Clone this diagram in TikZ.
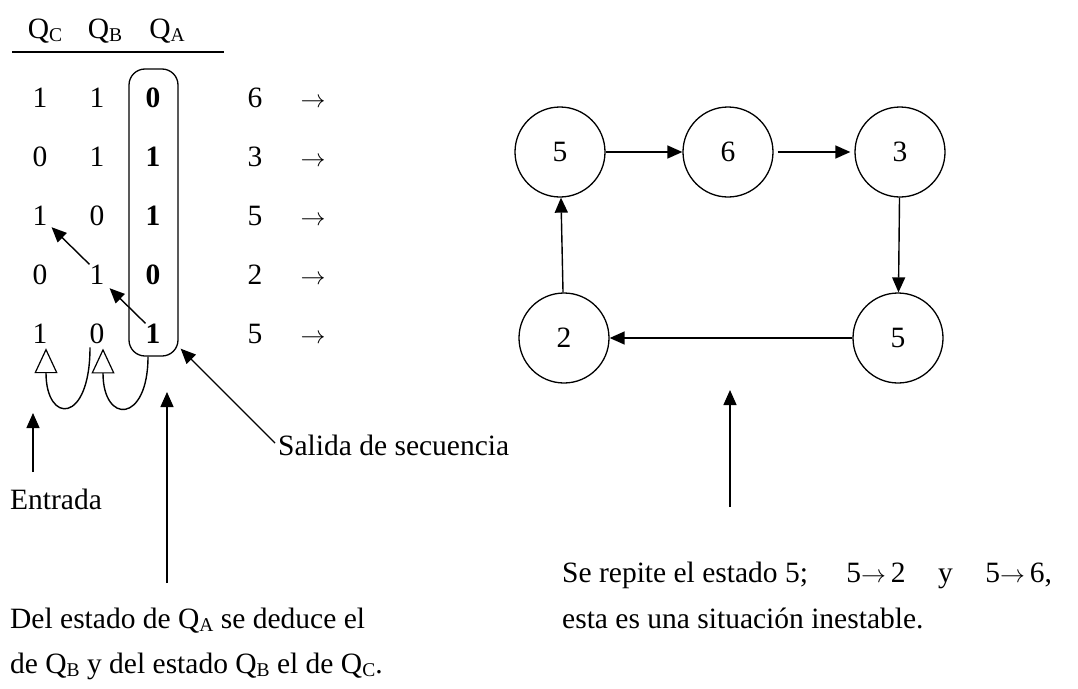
\documentclass[tikz,border=0pt]{standalone}
\usepackage{fontspec}
\setmainfont{Liberation Serif}
\usetikzlibrary{arrows.meta, positioning}
\newcommand{\qsub}[1]{\raisebox{-0.13em}{\fontsize{19.5}{20}\selectfont #1}}
\newcommand{\flechita}{{\fontsize{33}{35}\selectfont$\rightarrow$}}

\tikzset{
  txt/.style={inner sep=0pt, anchor=base, font=\fontsize{29.5}{35}\selectfont},
  estado/.style={draw, circle, line width=1.3pt, minimum size=90pt, inner sep=0pt, font=\fontsize{29.5}{35}\selectfont},
  flecha/.style={line width=1.4pt, -{Triangle[length=15pt,width=13pt]}},
  hueca/.style={line width=1.4pt, -{Triangle[open,length=25pt,width=23pt,line width=1.2pt]}}
}

\begin{document}
\begin{tikzpicture}[x=1pt, y=-1pt]
\useasboundingbox (0,0) rectangle (1078,688);

\node[txt] (hc) at (45,38) {Q\qsub{C}};
\node[txt] (hb) at (105,38) {Q\qsub{B}};
\node[txt] (ha) at (167,38) {Q\qsub{A}};
\draw[line width=1.3pt] (12,52) -- (224,52);

\foreach \c/\b/\a/\n [count=\i] in {1/1/0/6, 0/1/1/3, 1/0/1/5, 0/1/0/2, 1/0/1/5} {
  \node[txt] (c\i) at (40,{107+59*(\i-1)}) {\c};
  \node[txt] (b\i) at (97,{107+59*(\i-1)}) {\b};
  \node[txt] (a\i) at (153,{107+59*(\i-1)}) {\textbf{\a}};
  \node[txt] (n\i) at (255,{107+59*(\i-1)}) {\n};
  \node[txt] (f\i) at (313,{107+59*(\i-1)}) {\flechita};
}
\node[draw, rounded corners=16pt, line width=1.3pt, minimum width=49pt, minimum height=287pt] (qabox) at (153.5,212.5) {};

\draw[flecha] (a5.north west) -- ([shift={(5pt,-4pt)}]b4.south east);
\draw[flecha] (b4.north west) -- ([shift={(4pt,-2pt)}]c3.south east);
\draw[hueca] ([xshift=-5.5pt]qabox.south) .. controls +(0,67) and +(0,76) .. ([shift={(6pt,-5pt)}]b5.south);
\draw[hueca] ([shift={(-7pt,-4pt)}]b5.south) .. controls +(0,77) and +(0,76) .. ([shift={(6pt,-5pt)}]c5.south);

\node[txt, anchor=base west] (salida) at (278,455) {Salida de secuencia};
\draw[flecha] ([shift={(-3pt,12pt)}]salida.base west) -- ([shift={(2pt,8pt)}]qabox.south east);

\node[txt, anchor=base west] (entrada) at (10,509) {Entrada};
\coordinate (e1) at (33,472);
\coordinate (e2) at (33,413);
\draw[flecha] (e1) -- (e2);

\node[txt, anchor=base west] (del1) at (10,628) {Del estado de Q\qsub{A} se deduce el};
\node[txt, anchor=base west] (del2) at (10,673) {de Q\qsub{B} y del estado Q\qsub{B} el de Q\qsub{C}.};
\coordinate (d1) at (167,583);
\coordinate (d2) at (167,392);
\draw[flecha] (d1) -- (d2);

\node[estado] (s5a) at (560,152) {5};
\node[estado] (s6) at (728,152) {6};
\node[estado] (s3) at (900,152) {3};
\node[estado] (s2) at (564,338) {2};
\node[estado] (s5b) at (898,338) {5};
\draw[flecha] (s5a) -- (s6);
\draw[flecha, shorten <=4pt, shorten >=4pt] (s6) -- (s3);
\draw[flecha] (s3) -- (s5b);
\draw[flecha] (s5b) -- (s2);
\draw[flecha] (s2) -- (s5a);

\node[txt, anchor=base west] (rep1) at (562,582) {Se repite el estado 5;\hspace{1.3em}5\flechita\,2\hspace{1.1em}y\hspace{1.1em}5\flechita\,6,};
\node[txt, anchor=base west] (rep2) at (562,628) {esta es una situación inestable.};
\coordinate (r1) at (730,507);
\coordinate (r2) at (730,390);
\draw[flecha] (r1) -- (r2);
\end{tikzpicture}
\end{document}
